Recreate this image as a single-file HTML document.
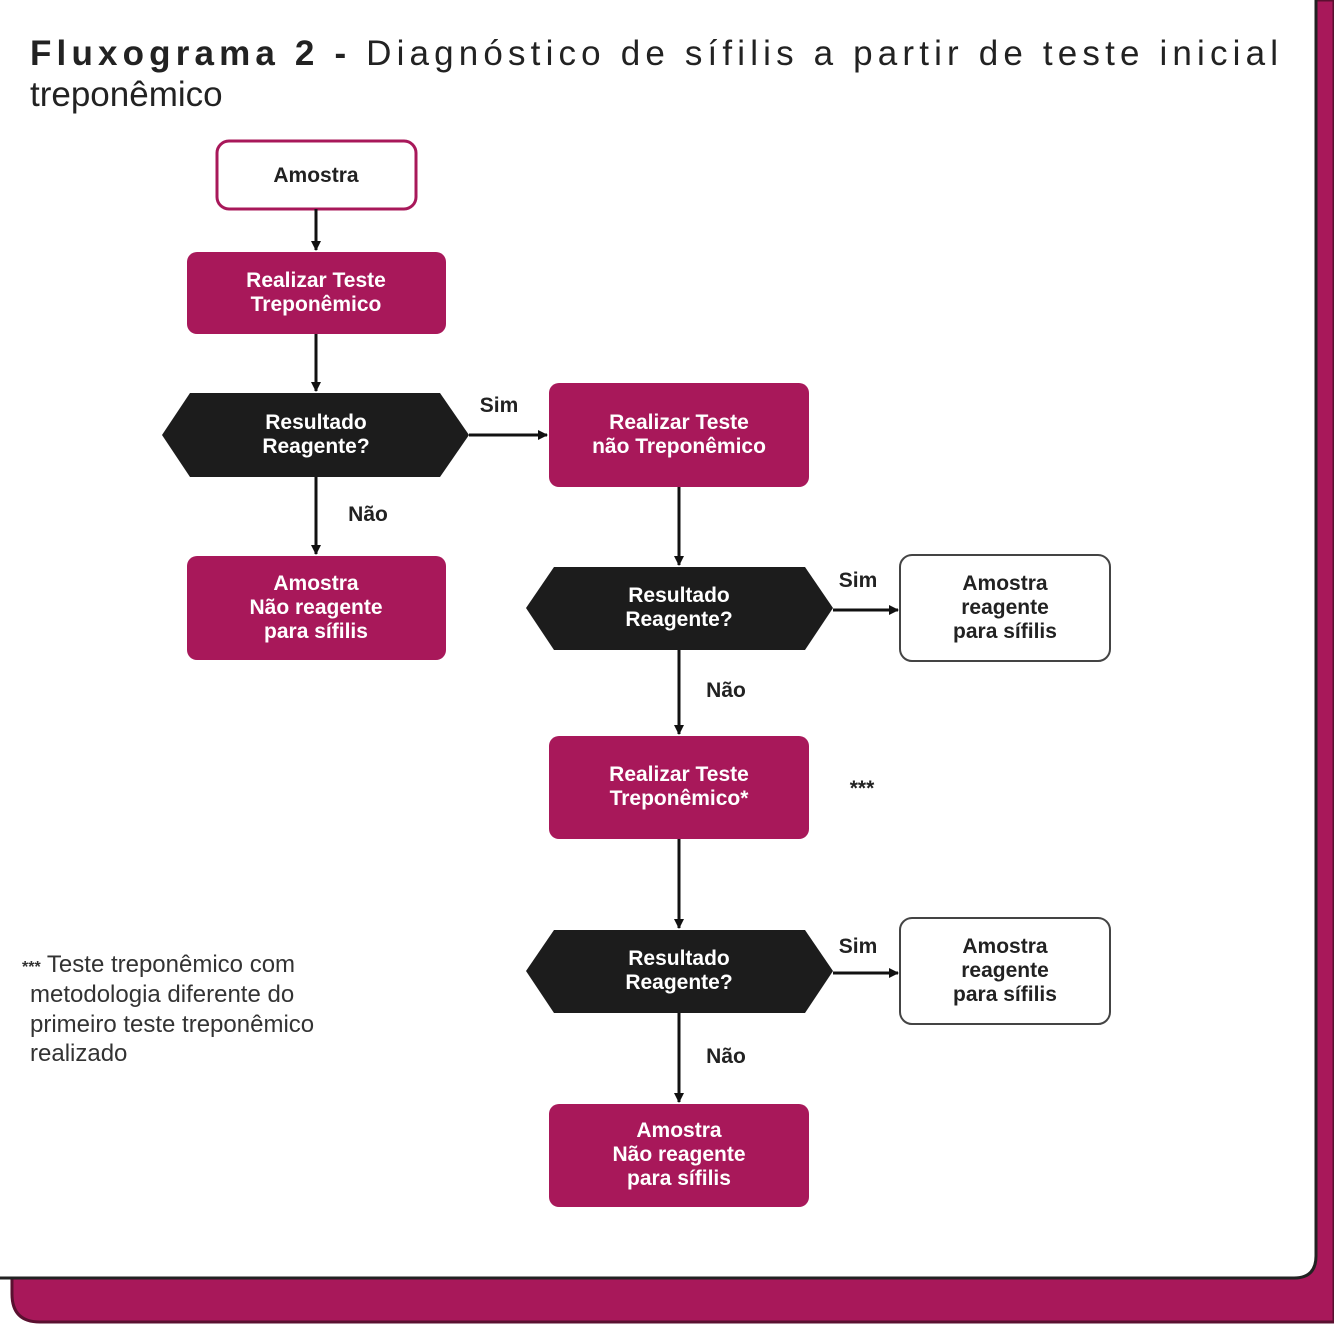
<!DOCTYPE html>
<html><head><meta charset="utf-8"><style>
html,body{margin:0;padding:0;background:#fff;}
svg{display:block;}
text{font-family:"Liberation Sans","DejaVu Sans",sans-serif;}
</style></head><body>
<svg width="1334" height="1334" viewBox="0 0 1334 1334" xmlns="http://www.w3.org/2000/svg">
<defs>
<marker id="a" markerWidth="10" markerHeight="10" refX="9" refY="5" orient="auto" markerUnits="userSpaceOnUse">
<path d="M0,0 L10,5 L0,10 z" fill="#111"/></marker>
</defs>
<rect width="1334" height="1334" fill="#fff"/>
<!-- magenta back card -->
<path d="M10,0 H1334 V1322 H40 Q12,1322 12,1294 Z" fill="#a8185a" stroke="#5a1030" stroke-width="3"/>
<!-- white card -->
<path d="M-5,-5 H1316 V1256 Q1316,1278 1294,1278 H-5 Z" fill="#fff" stroke="#222" stroke-width="3"/>
<!-- title -->
<text x="30" y="65" font-size="35" fill="#222" textLength="1248" lengthAdjust="spacing"><tspan font-weight="bold">Fluxograma 2 -</tspan> Diagnóstico de sífilis a partir de teste inicial</text>
<text x="30" y="106" font-size="35" fill="#222">treponêmico</text>
<g font-weight="bold" font-size="21" text-anchor="middle">
<rect x="217" y="141" width="199" height="68" rx="12" fill="#fff" stroke="#a8185a" stroke-width="3"/>
<text x="316" y="182" fill="#222">Amostra</text>
<rect x="187" y="252" width="259" height="82" rx="10" fill="#a8185a"/>
<text x="316" y="287" fill="#fff">Realizar Teste</text>
<text x="316" y="311" fill="#fff">Treponêmico</text>
<polygon points="162,435 190,393 440,393 469,435 440,477 190,477" fill="#1c1c1c"/>
<text x="316" y="429" fill="#fff">Resultado</text>
<text x="316" y="453" fill="#fff">Reagente?</text>
<rect x="549" y="383" width="260" height="104" rx="10" fill="#a8185a"/>
<text x="679" y="429" fill="#fff">Realizar Teste</text>
<text x="679" y="453" fill="#fff">não Treponêmico</text>
<rect x="187" y="556" width="259" height="104" rx="10" fill="#a8185a"/>
<text x="316" y="590" fill="#fff">Amostra</text>
<text x="316" y="614" fill="#fff">Não reagente</text>
<text x="316" y="638" fill="#fff">para sífilis</text>
<polygon points="526,608 554,567 805,567 833,608 805,650 554,650" fill="#1c1c1c"/>
<text x="679" y="602" fill="#fff">Resultado</text>
<text x="679" y="626" fill="#fff">Reagente?</text>
<rect x="900" y="555" width="210" height="106" rx="12" fill="#fff" stroke="#444" stroke-width="2"/>
<text x="1005" y="590" fill="#222">Amostra</text>
<text x="1005" y="614" fill="#222">reagente</text>
<text x="1005" y="638" fill="#222">para sífilis</text>
<rect x="549" y="736" width="260" height="103" rx="10" fill="#a8185a"/>
<text x="679" y="781" fill="#fff">Realizar Teste</text>
<text x="679" y="805" fill="#fff">Treponêmico*</text>
<polygon points="526,971 554,930 805,930 833,971 805,1013 554,1013" fill="#1c1c1c"/>
<text x="679" y="965" fill="#fff">Resultado</text>
<text x="679" y="989" fill="#fff">Reagente?</text>
<rect x="900" y="918" width="210" height="106" rx="12" fill="#fff" stroke="#444" stroke-width="2"/>
<text x="1005" y="953" fill="#222">Amostra</text>
<text x="1005" y="977" fill="#222">reagente</text>
<text x="1005" y="1001" fill="#222">para sífilis</text>
<rect x="549" y="1104" width="260" height="103" rx="10" fill="#a8185a"/>
<text x="679" y="1137" fill="#fff">Amostra</text>
<text x="679" y="1161" fill="#fff">Não reagente</text>
<text x="679" y="1185" fill="#fff">para sífilis</text>
<!-- labels -->
<g fill="#222">
<text x="499" y="412">Sim</text>
<text x="368" y="521">Não</text>
<text x="858" y="587">Sim</text>
<text x="726" y="697">Não</text>
<text x="862" y="795">***</text>
<text x="858" y="953">Sim</text>
<text x="726" y="1063">Não</text>
</g>
</g>
<g stroke="#111" stroke-width="3" fill="none" marker-end="url(#a)">
<line x1="316" y1="209" x2="316" y2="250"/>
<line x1="316" y1="334" x2="316" y2="391"/>
<line x1="316" y1="477" x2="316" y2="554"/>
<line x1="469" y1="435" x2="547" y2="435"/>
<line x1="679" y1="487" x2="679" y2="565"/>
<line x1="679" y1="650" x2="679" y2="734"/>
<line x1="679" y1="839" x2="679" y2="928"/>
<line x1="679" y1="1013" x2="679" y2="1102"/>
<line x1="833" y1="610" x2="898" y2="610"/>
<line x1="833" y1="973" x2="898" y2="973"/>
</g>
<g font-size="24" fill="#333">
<text x="22" y="972"><tspan font-weight="bold" font-size="16">***</tspan> Teste treponêmico com</text>
<text x="30" y="1002">metodologia diferente do</text>
<text x="30" y="1032">primeiro teste treponêmico</text>
<text x="30" y="1061">realizado</text>
</g>
</svg>
</body></html>
